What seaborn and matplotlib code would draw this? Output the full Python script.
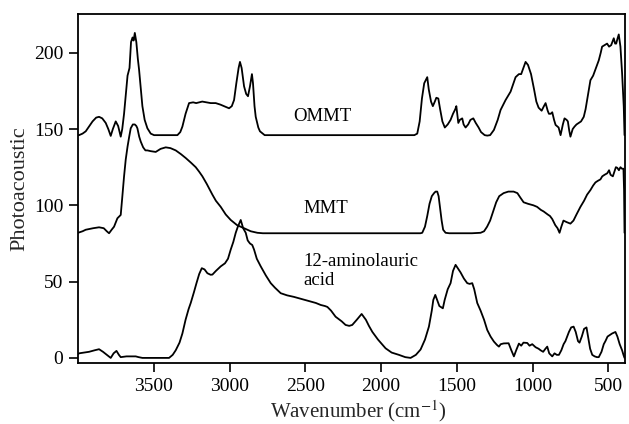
import matplotlib
matplotlib.use("Agg")
import matplotlib.pyplot as plt
import seaborn as sns
import pandas as pd

# ---- data ----
ommt_wn = [4000, 3993, 3970, 3949, 3925, 3904, 3880, 3861, 3840, 3817, 3800, 3784, 3770, 3751, 3735, 3718,
           3708, 3696, 3685, 3673, 3660, 3650, 3640, 3633, 3625, 3615, 3605, 3597, 3585, 3575, 3560, 3542,
           3520, 3498, 3400, 3344, 3325, 3311, 3290, 3267, 3240, 3220, 3180, 3150, 3124, 3091, 3060, 3036,
           3003, 2985, 2970, 2955, 2940, 2931, 2920, 2904, 2890, 2878, 2865, 2852, 2845, 2835, 2827, 2810,
           2799, 2768, 2700, 2500, 2300, 2100, 1900, 1780, 1761, 1745, 1730, 1715, 1695, 1685, 1670, 1658,
           1645, 1635, 1622, 1610, 1595, 1579, 1560, 1541, 1525, 1510, 1503, 1495, 1490, 1480, 1464, 1455,
           1442, 1425, 1410, 1391, 1375, 1356, 1340, 1316, 1299, 1280, 1255, 1230, 1211, 1178, 1145, 1112,
           1090, 1075, 1046, 1030, 1010, 990, 975, 960, 940, 925, 914, 900, 892, 880, 870, 858, 848, 828,
           815, 800, 789, 775, 767, 758, 750, 735, 723, 710, 695, 680, 662, 650, 640, 628, 618, 600, 585,
           563, 550, 541, 525, 508, 495, 481, 470, 464, 455, 448, 440, 431, 420, 409, 398, 393]
ommt_pa = [146, 146, 147, 148.5, 152, 155, 157.5, 158, 157, 154, 150, 145.5, 150, 155, 152, 145,
           150, 160, 172, 185, 190, 207, 210, 208, 213, 207, 196, 189, 176, 165, 156, 150.5,
           147, 146, 146, 146, 148, 151.6, 160, 167, 167.5, 167, 168, 167.5, 167, 167, 166, 165,
           163.6, 165, 169, 180, 190, 194, 190, 178, 173, 171.5, 178, 186, 180, 165, 158, 151,
           148.5, 146, 146, 146, 146, 146, 146, 146, 147, 155, 170, 180, 184, 176, 168, 165,
           168, 170.5, 170, 163, 155, 151, 153, 156, 160, 163, 165, 158, 154, 156, 157, 153,
           151, 153, 156, 157, 154, 151, 148, 146, 145.7, 146, 149.4, 156, 162.5, 169, 174.5, 184,
           186, 186, 194, 192, 186, 176, 168, 164, 162, 165, 167, 162, 160, 160, 161, 156, 152.7, 151,
           146, 153, 157, 156, 155, 149, 145, 150, 151.6, 153, 154, 155, 158, 163, 169, 176, 182, 185, 189,
           195, 200, 204, 205, 206, 204, 205, 208, 209.5, 206, 206, 209, 212, 204, 186.6, 164.7, 146]

mmt_wn = [4000, 3970, 3949, 3900, 3861, 3830, 3810, 3795, 3778, 3762, 3750, 3740, 3725, 3718, 3708, 3696,
          3685, 3673, 3662, 3652, 3638, 3625, 3615, 3608, 3596, 3586, 3570, 3555, 3542, 3520, 3487, 3455,
          3421, 3390, 3355, 3320, 3289, 3255, 3223, 3200, 3179, 3150, 3113, 3090, 3058, 3025, 2992, 2950,
          2904, 2860, 2816, 2780, 2500, 2200, 1900, 1740, 1728, 1710, 1695, 1680, 1665, 1650, 1640, 1629,
          1620, 1610, 1600, 1590, 1574, 1550, 1500, 1450, 1400, 1343, 1320, 1300, 1280, 1260, 1240, 1220,
          1191, 1160, 1125, 1100, 1080, 1059, 1030, 994, 970, 945, 927, 900, 885, 870, 850, 835, 822, 810,
          796, 775, 750, 730, 710, 684, 660, 640, 618, 600, 585, 570, 552, 540, 525, 507, 495, 485, 470,
          460, 450, 441, 430, 420, 410, 400, 396, 393]
mmt_pa = [82, 83, 84, 85, 85.6, 85, 83, 81.7, 84, 86, 89, 91.5, 93, 93.7, 105, 119,
          130, 138.5, 145, 150.5, 153, 153, 152, 150.5, 145, 141.8, 138, 136, 136, 135.5, 135, 137,
          138, 137.5, 136, 133.5, 131, 128, 125, 122, 119, 114, 107, 103, 99, 94, 90.4, 87,
          85, 83, 82, 81.7, 81.7, 81.7, 81.7, 81.7, 82, 86, 93, 101, 106, 108, 109, 109,
          106, 98, 90, 84, 82, 81.7, 81.7, 81.7, 81.7, 82, 83, 86, 90, 96, 102, 106,
          108, 109, 109, 108, 105, 102, 101, 100, 99, 97, 96, 94, 93, 91, 87, 85, 82, 86,
          90, 89, 88, 90, 94, 99, 103, 107, 110, 113, 115, 116, 117, 119, 120, 121, 123, 120, 119,
          122, 125, 124.6, 123, 125, 124, 124, 110, 82]

acid_wn = [4000, 3993, 3960, 3927, 3890, 3861, 3835, 3810, 3784, 3765, 3746, 3730, 3718, 3680, 3650, 3619,
           3600, 3575, 3500, 3450, 3399, 3375, 3355, 3330, 3311, 3290, 3270, 3256, 3235, 3218, 3200, 3183,
           3165, 3146, 3125, 3113, 3090, 3058, 3030, 3010, 2992, 2975, 2959, 2945, 2926, 2910, 2893, 2880,
           2865, 2850, 2838, 2820, 2794, 2760, 2728, 2700, 2662, 2620, 2575, 2520, 2464, 2430, 2398, 2370,
           2354, 2330, 2300, 2260, 2234, 2210, 2190, 2160, 2128, 2100, 2080, 2057, 2020, 1970, 1930, 1882,
           1840, 1805, 1770, 1739, 1710, 1684, 1665, 1655, 1642, 1630, 1615, 1592, 1580, 1560, 1541, 1525,
           1508, 1495, 1475, 1453, 1431, 1415, 1398, 1385, 1365, 1343, 1320, 1299, 1277, 1255, 1235, 1222,
           1210, 1190, 1158, 1140, 1123, 1108, 1090, 1075, 1060, 1035, 1020, 1002, 980, 960, 947, 930,
           915, 903, 890, 870, 855, 840, 826, 810, 795, 783, 760, 745, 729, 715, 700, 690, 675, 660,
           644, 630, 620, 606, 590, 575, 563, 545, 530, 519, 505, 490, 475, 453, 440, 425, 409, 400, 393]
acid_pa = [2.5, 3, 3.5, 4, 5, 5.7, 4, 2, 0, 3, 4.6, 2, 0.5, 1, 1, 1,
           0.5, 0, 0, 0, 0, 2, 5, 10, 16, 25, 32, 36, 43, 49, 55, 58.8,
           58, 55.5, 54.5, 54.6, 57, 60, 62, 65, 71, 76, 82, 86, 90.4, 85, 82, 77,
           75, 74, 71, 65, 60, 54, 49, 46, 42.4, 41, 40, 38.5, 37, 36, 34.7, 34,
           33.4, 31, 27, 24, 21.6, 21, 21.6, 25, 28.8, 25, 21, 17, 12, 6.3, 3.5, 2,
           0.5, 0, 2, 5.5, 12, 20.5, 31, 38, 41.3, 38, 34, 32.5, 38, 45, 49, 57,
           61, 59, 56, 52, 49, 48.5, 49, 45, 36, 31, 25, 18.3, 14, 10.7, 8.5, 7.4,
           9, 9.5, 9.6, 5, 1, 5, 9.4, 8, 10, 9.8, 8, 9, 7, 6, 5, 4,
           6, 7.4, 3, 1, 3, 2, 2, 5, 9, 11, 17, 20, 20.5, 17, 11, 10, 14, 19,
           20, 12, 6, 2, 1, 0.5, 0.5, 4, 9, 11, 14, 15, 16, 17, 14, 9, 5, 2, 0]

labels = ["OMMT", "MMT", "12-aminolauric\nacid"]
label_pos = [(2577, 158), (2511, 98), (2511, 57)]

xticks = [3500, 3000, 2500, 2000, 1500, 1000, 500]
yticks = [0, 50, 100, 150, 200]

# ---- plot ----
sns.set_theme(style="ticks")
plt.rcParams["font.family"] = ["Liberation Serif", "DejaVu Serif"]
plt.rcParams["mathtext.fontset"] = "stix"

fig = plt.figure(figsize=(6.29, 4.24), dpi=100)
ax = fig.add_axes([0.124, 0.144, 0.8696, 0.823])

for wn, pa in [(ommt_wn, ommt_pa), (mmt_wn, mmt_pa), (acid_wn, acid_pa)]:
    df = pd.DataFrame({"wn": wn, "pa": pa})
    sns.lineplot(data=df, x="wn", y="pa", ax=ax, color="black", linewidth=1.3,
                 sort=False, estimator=None)

for txt, (x, y) in zip(labels, label_pos):
    ax.text(x, y, txt, ha="left", va="center", fontsize=13.5, color="black",
            linespacing=1.1)

ax.set_xlim(4000, 390)
ax.set_ylim(-3.3, 225.4)
ax.set_xticks(xticks)
ax.set_yticks(yticks)
ax.tick_params(axis="both", direction="out", length=6.5, width=1.2, labelsize=14,
               colors="black", pad=4)
ax.tick_params(top=False, right=False)
for s in ax.spines.values():
    s.set_visible(True)
    s.set_linewidth(1.3)
    s.set_color("black")

ax.set_xlabel("Wavenumber (cm$^{-1}$)", fontsize=15)
ax.set_ylabel("Photoacoustic", fontsize=16, labelpad=3)
ax.xaxis.set_label_coords(0.512, -0.1, transform=ax.transAxes)
ax.xaxis.label.set_va("top")

fig.savefig("out.png", dpi=100)
